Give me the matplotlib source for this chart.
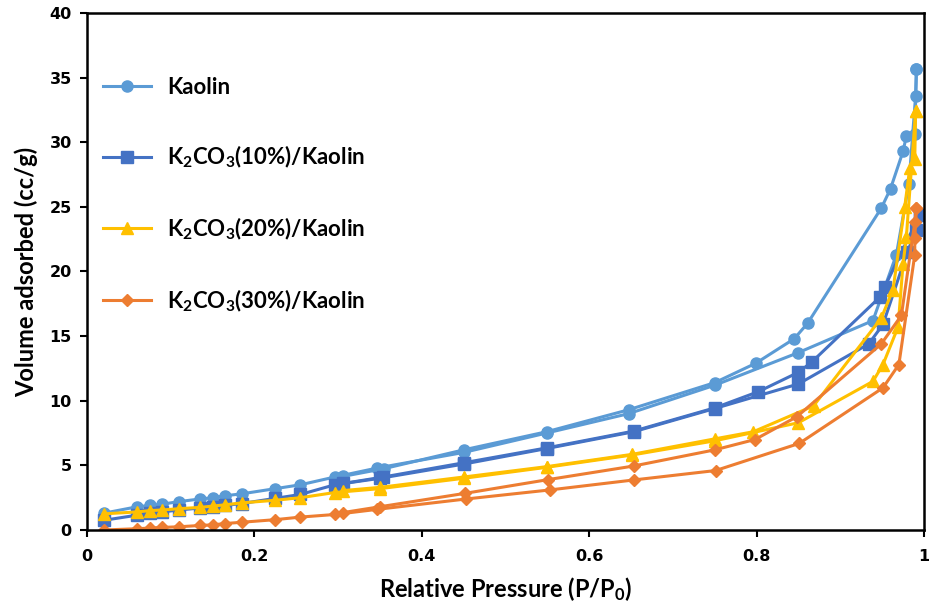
import matplotlib
matplotlib.use("Agg")
import matplotlib.pyplot as plt

plt.rcParams['font.family'] = ['Lato', 'DejaVu Sans']
plt.rcParams['mathtext.fontset'] = 'custom'
plt.rcParams['mathtext.rm'] = 'Lato:bold'
plt.rcParams['mathtext.bf'] = 'Lato:bold'
plt.rcParams['mathtext.default'] = 'rm'

# adsorption / desorption branches
kaolin_ads_p = [0.02, 0.06, 0.075, 0.09, 0.11, 0.135, 0.15, 0.165, 0.185, 0.225, 0.255, 0.296,
                0.347, 0.45, 0.549, 0.647, 0.75, 0.849, 0.939, 0.967, 0.982, 0.990, 0.991]
kaolin_ads_v = [1.3, 1.8, 1.9, 2.0, 2.2, 2.4, 2.5, 2.65, 2.8, 3.2, 3.5, 4.1,
                4.8, 6.0, 7.5, 9.0, 11.2, 13.7, 16.2, 21.3, 26.8, 33.6, 35.7]
kaolin_des_p = [0.991, 0.989, 0.979, 0.975, 0.960, 0.949, 0.861, 0.845, 0.799, 0.750,
                0.647, 0.549, 0.45, 0.355, 0.306]
kaolin_des_v = [35.7, 30.6, 30.5, 29.3, 26.4, 24.9, 16.0, 14.8, 12.9, 11.4,
                9.3, 7.6, 6.2, 4.75, 4.15]

k10_ads_p = [0.02, 0.06, 0.075, 0.09, 0.11, 0.135, 0.15, 0.165, 0.185, 0.225, 0.255, 0.296,
             0.35, 0.45, 0.549, 0.653, 0.750, 0.850, 0.934, 0.951, 0.980, 0.991, 0.995]
k10_ads_v = [0.75, 1.15, 1.3, 1.4, 1.55, 1.7, 1.8, 1.9, 2.05, 2.45, 2.75, 3.5,
             4.0, 5.1, 6.3, 7.6, 9.4, 11.3, 14.4, 15.9, 21.5, 23.2, 24.4]
k10_des_p = [0.995, 0.953, 0.947, 0.866, 0.850, 0.802, 0.75, 0.653, 0.549, 0.45, 0.354, 0.306]
k10_des_v = [24.4, 18.8, 18.0, 13.0, 12.2, 10.7, 9.45, 7.65, 6.35, 5.2, 4.1, 3.6]

k20_ads_p = [0.02, 0.06, 0.075, 0.09, 0.11, 0.135, 0.15, 0.165, 0.185, 0.225, 0.255, 0.296,
             0.35, 0.45, 0.549, 0.651, 0.75, 0.85, 0.939, 0.951, 0.969, 0.975, 0.979, 0.99]
k20_ads_v = [1.25, 1.4, 1.5, 1.55, 1.65, 1.75, 1.85, 1.95, 2.1, 2.3, 2.5, 2.9,
             3.2, 4.0, 4.85, 5.8, 6.9, 8.3, 11.5, 12.8, 15.7, 20.6, 22.7, 32.4]
k20_des_p = [0.99, 0.989, 0.983, 0.977, 0.963, 0.949, 0.868, 0.796, 0.75, 0.651,
             0.549, 0.45, 0.35, 0.306]
k20_des_v = [32.4, 28.7, 28.0, 25.0, 18.6, 16.4, 9.6, 7.6, 7.05, 5.85,
             4.9, 4.1, 3.3, 3.05]

k30_ads_p = [0.02, 0.06, 0.075, 0.09, 0.11, 0.135, 0.15, 0.165, 0.185, 0.225, 0.255, 0.296,
             0.347, 0.453, 0.553, 0.653, 0.751, 0.851, 0.951, 0.970, 0.989, 0.989, 0.991]
k30_ads_v = [0.0, 0.1, 0.15, 0.2, 0.25, 0.35, 0.4, 0.5, 0.6, 0.8, 1.0, 1.2,
             1.6, 2.4, 3.1, 3.87, 4.6, 6.7, 11.0, 12.8, 21.3, 22.6, 24.9]
k30_des_p = [0.991, 0.989, 0.973, 0.949, 0.848, 0.798, 0.75, 0.653, 0.551, 0.452, 0.35, 0.306]
k30_des_v = [24.9, 23.8, 16.6, 14.4, 8.76, 7.0, 6.2, 4.95, 3.9, 2.84, 1.8, 1.35]

series = [
    ("Kaolin", "#5B9BD5", "o", 8, kaolin_ads_p, kaolin_ads_v, kaolin_des_p, kaolin_des_v),
    ("K$_2$CO$_3$(10%)/Kaolin", "#4472C4", "s", 8, k10_ads_p, k10_ads_v, k10_des_p, k10_des_v),
    ("K$_2$CO$_3$(20%)/Kaolin", "#FFC000", "^", 8.5, k20_ads_p, k20_ads_v, k20_des_p, k20_des_v),
    ("K$_2$CO$_3$(30%)/Kaolin", "#ED7D31", "D", 6.5, k30_ads_p, k30_ads_v, k30_des_p, k30_des_v),
]

fig = plt.figure(figsize=(9.32, 6.13), dpi=100)
ax = fig.add_axes([0.0934, 0.1354, 0.898, 0.8434])

for label, color, marker, ms, ap, av, dp, dv in series:
    ax.plot(ap, av, color=color, marker=marker, markersize=ms, linewidth=2.2, label=label)
    ax.plot(dp, dv, color=color, marker=marker, markersize=ms, linewidth=2.2)

ax.set_xlim(0, 1)
ax.set_ylim(0, 40)
ax.set_xticks([0, 0.2, 0.4, 0.6, 0.8, 1])
ax.set_xticklabels(["0", "0.2", "0.4", "0.6", "0.8", "1"])
ax.set_yticks(range(0, 41, 5))
for lbl in ax.get_xticklabels() + ax.get_yticklabels():
    lbl.set_family("DejaVu Sans")
    lbl.set_fontweight("bold")
    lbl.set_fontsize(11.5)
ax.tick_params(direction="out", length=5, width=1.5, colors="black")
ax.tick_params(axis="x", pad=9)
ax.tick_params(axis="y", pad=6)
for sp in ax.spines.values():
    sp.set_linewidth(1.8)

ax.set_xlabel("Relative Pressure (P/P$_0$)", fontsize=17, fontweight="bold", labelpad=8)
ax.set_ylabel("Volume adsorbed (cc/g)", fontsize=17, fontweight="bold", labelpad=8)

leg = ax.legend(loc="upper left", bbox_to_anchor=(0.0, 0.906), frameon=False,
                prop={"size": 16, "weight": "bold"}, labelspacing=2.05,
                handlelength=2.2, handletextpad=0.7, markerscale=1.0,
                borderaxespad=0.3)

fig.savefig("out.png", dpi=100)
